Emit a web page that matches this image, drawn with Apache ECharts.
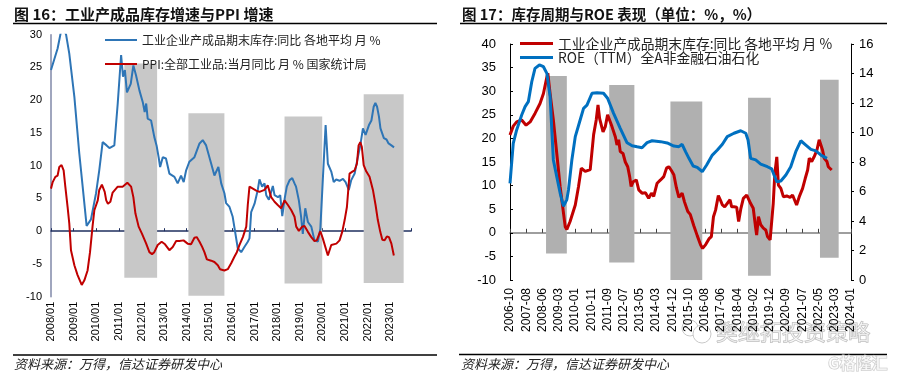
<!DOCTYPE html>
<html>
<head>
<meta charset="utf-8">
<script src="https://cdn.jsdelivr.net/npm/echarts@6/dist/echarts.min.js"></script>
<style>
  html, body { margin: 0; padding: 0; background: #fff; }
  #chart { width: 901px; height: 377px; }
</style>
</head>
<body>
<div id="chart"></div>
<script>
// 左图：月份序号 m 从 2008/01 = 0 开始
const leftYearLabels = ['2008/01', '2009/01', '2010/01', '2011/01', '2012/01', '2013/01', '2014/01', '2015/01',
  '2016/01', '2017/01', '2018/01', '2019/01', '2020/01', '2021/01', '2022/01', '2023/01'];
const leftInvName = '工业企业产成品期末库存:同比 各地平均 月 %';
const leftPpiName = 'PPI:全部工业品:当月同比 月 % 国家统计局';

const leftInv = [[0, 24.6], [3.5, 27.9], [4.4, 29.2], [6, 31.5], [7, 31.8], [8, 30], [9.7, 27.1], [12.4, 20.5],
  [15, 11.9], [16.8, 6.8], [18.9, 0.8], [21.2, 1.8], [23.9, 5.8], [25.6, 9.3], [27.4, 13.6], [29.5, 13.1],
  [31, 12.7], [33.6, 13.1], [35.4, 19.5], [37.2, 26.9], [38.2, 23.6], [39.2, 24.6], [40.3, 21.2], [42.3, 22.5],
  [43.7, 25.3], [45.1, 23.8], [46.9, 21.5], [48.7, 19.7], [49.7, 18.2], [50.5, 19.5], [51.3, 17.2], [53.1, 16.9],
  [54.8, 14.4], [56, 13.1], [57.1, 11.3], [57.9, 9.8], [59.3, 11.3], [61, 11.1], [62.8, 8.8], [65.5, 8.3],
  [67.2, 7.3], [69, 8.5], [70.4, 7.5], [71.7, 9.3], [73.4, 10.6], [76.1, 11.3], [78.8, 13.4], [80.5, 13.9],
  [82.3, 13.1], [83.2, 12.9], [85, 10.3], [86.7, 8.5], [87.6, 8.4], [88.8, 9.8], [90.3, 7.3], [92, 5.8],
  [92.9, 4.3], [94.7, 3.7], [96.4, 2.2], [99.1, -2.6], [100.9, -3.2], [102.6, -2.4], [104.4, -1.6], [105.3, -1.1],
  [106.2, 2.9], [108, 4.2], [109.7, 6.3], [110.6, 7.9], [112, 6.8], [113.3, 7.3], [114.2, 5.5], [115.6, 4.8],
  [116.8, 6.0], [117.7, 6.9], [118.6, 5.5], [120.4, 5.2], [121.6, 5.5], [122.7, 2.3], [124, 5.0], [125.1, 6.8],
  [126.6, 7.8], [128, 8.1], [129.2, 7.3], [130, 6.8], [131.5, 4.7], [132.7, 2.2], [133.6, -0.4], [134.9, 3.5],
  [136.3, 1.4], [138.1, 0.7], [139, 0.4], [139.8, -1.4], [141.6, -1.6], [142.9, 0.4], [144.2, 7.8], [145.7, 16.2],
  [146.9, 10.3], [148.7, 9.1], [150, 7.5], [151.3, 7.9], [153.1, 7.7], [154.9, 8.0], [156.3, 7.5], [158, 6.3],
  [159.3, 7.8], [161.1, 8.8], [162.8, 11.3], [164.1, 13.1], [165.5, 15.7], [166.9, 14.7], [168.7, 16.2], [170, 16.9],
  [171.2, 19.0], [172.1, 19.6], [173, 19.0], [174, 17.5], [174.8, 15.7], [175.8, 15.4], [176.6, 14.2], [178, 14.0],
  [179.1, 13.4], [180.6, 13.1], [182, 12.8]];

const leftPpi = [[0, 6.5], [0.9, 7.5], [2.3, 8.3], [3.5, 8.5], [4.4, 9.8], [5.6, 10.1], [6.7, 9.3], [7.6, 6.8],
  [8.8, 3.7], [9.7, 1.2], [10.6, -2.9], [12.4, -5.2], [14.1, -6.7], [16.3, -8.2], [17.7, -7.5], [19.4, -6.0],
  [20.7, -3.2], [22.1, 0.9], [23, 3.2], [24.8, 4.7], [25.6, 6.3], [27, 7.1], [28.5, 6.0], [29.3, 4.7],
  [30.2, 4.2], [31.5, 4.5], [32.7, 5.9], [33.6, 5.8], [35.4, 6.8], [38, 6.8], [40.5, 7.4], [41.5, 7.5],
  [42.5, 6.8], [43.7, 5.2], [44.8, 2.7], [46.5, 0.7], [48.3, -0.4], [50.5, -1.9], [52.2, -3.2], [53.6, -3.5],
  [54.8, -3.2], [56.6, -2.1], [58.7, -1.6], [60.5, -2.0], [62.8, -2.9], [64.6, -2.4], [66.4, -1.5], [68.1, -1.5],
  [70.3, -1.4], [72.5, -1.9], [74.3, -2.0], [76.1, -1.0], [77.3, -0.9], [78.8, -1.6], [80.2, -2.4], [81.4, -3.2],
  [82.7, -4.3], [85, -4.5], [86.7, -4.7], [88.5, -5.2], [89.7, -5.8], [92, -6.0], [93.8, -5.8], [95.6, -4.9],
  [97.3, -3.9], [98.6, -3.2], [100, -2.1], [101.8, -0.9], [103.6, 0.7], [104.4, 4.0], [105.3, 6.8], [106, 6.9],
  [108.9, 6.2], [110.6, 6.0], [113.3, 6.3], [115, 7.0], [116.8, 5.2], [118.6, 4.5], [120.3, 4.0], [122.1, 3.5],
  [123.9, 4.7], [125.7, 4.0], [127.5, 3.2], [129.2, 2.2], [130.1, 0.7], [131.5, 0.05], [133.3, 0.7], [134.5, 0.8],
  [136.3, -0.1], [138.1, -0.9], [139.8, -1.5], [141, -1.4], [142.9, 0], [144.2, -1.1], [146.9, -3.7], [148.7, -2.1],
  [151.4, -1.9], [153.1, -1.4], [154.5, -0.1], [155.8, 1.7], [157, 3.7], [158.4, 8.8], [159.9, 9.1], [161.1, 9.3],
  [162.3, 10.3], [163.2, 13.1], [164.1, 13.6], [164.9, 12.9], [165.9, 10.1], [167.3, 9.1], [169, 8.3], [170.8, 6.3],
  [172.2, 4.0], [173.4, 1.7], [174.7, -0.1], [175.8, -1.3], [177, -1.4], [178.2, -0.8], [179.3, -0.9], [180.6, -1.9],
  [181.9, -3.7]];

// 阴影区间：[起, 止, 下沿, 上沿]
const leftShade = [[38.9, 56.3, -7.1, 25.6], [72.9, 92, -9.85, 18], [123.9, 143.9, -8, 17.5], [165.9, 187.1, -7.9, 20.9]];

// 右图：横轴序号 0..210，每 10 个一个刻度标签
const rightXLabels = ['2006-10', '2007-08', '2008-06', '2009-03', '2010-01', '2010-11', '2011-09', '2012-07',
  '2013-05', '2014-03', '2014-12', '2015-10', '2016-08', '2017-06', '2018-04', '2019-02', '2019-12', '2020-09',
  '2021-07', '2022-05', '2023-03', '2024-01'];
const rightInvName = '工业企业产成品期末库存:同比 各地平均 月 % ';
const rightRoeName = 'ROE（TTM）全A非金融石油石化';

const rightInv = [[0, 20.7], [2, 22.6], [4.1, 23.5], [7.2, 23.9], [9.9, 22.8], [12.4, 23.5], [15.4, 25.3], [18.5, 27.4],
  [20.6, 29.5], [22.7, 33.0], [23.3, 33.8], [24.7, 29.5], [26.7, 23.9], [28.8, 16.8], [30.9, 9.7], [34, 1.3],
  [35, 0.7], [37, 2.4], [38.1, 2.7], [40.2, 5.9], [42.2, 9.8], [43.9, 13.7], [46.3, 13.0], [49.4, 13.4],
  [51.5, 20.8], [53.1, 23.9], [54.2, 27.1], [55.2, 24.2], [56.2, 24.6], [57.3, 21.4], [58.7, 22.5], [60.1, 25.0],
  [61.3, 24.6], [62.8, 22.5], [64.9, 20.3], [65.9, 18.6], [66.9, 19.7], [67.9, 17.2], [69.6, 16.8], [71, 15.0],
  [72.5, 14.0], [73.7, 11.9], [74.6, 9.8], [75.8, 10.8], [77.8, 11.2], [79.3, 9.1], [81.3, 8.4], [83.4, 8.5],
  [85.4, 7.3], [87.1, 8.4], [88.5, 7.7], [90.6, 10.5], [92.7, 11.2], [94.7, 11.9], [96.4, 13.7], [97.8, 14.0],
  [99.4, 13.2], [100.9, 12.3], [102.5, 9.5], [104, 7.5], [106, 8.4], [107.5, 6.5], [109.5, 4.5], [111, 3.9],
  [113.2, 1.5], [115.3, -0.6], [117.4, -2.6], [118.6, -3.3], [120.5, -2.5], [122.5, -1.3], [124, -0.8], [125.3, 3.4],
  [126.6, 4.8], [128.3, 7.9], [129.5, 7.0], [130.8, 5.9], [132.2, 5.5], [133.4, 5.2], [135.5, 7.0], [136.5, 5.5],
  [137.9, 5.5], [139.6, 5.4], [140.8, 2.4], [142.1, 5.0], [143.7, 7.3], [145.8, 8.0], [148.2, 6.2], [149.8, 5.2],
  [151.3, 1.0], [151.9, -0.5], [153, 3.4], [154.4, 1.7], [156, 1.0], [157.5, 0.6], [158.6, -0.8], [160.2, -1.5],
  [161.2, -1.1], [162.1, 6.2], [163.1, 12.6], [164.3, 16.1], [165.3, 10.1], [166.8, 9.4], [168.4, 7.6], [170.4, 7.8],
  [172.5, 7.5], [174, 8.0], [176.5, 5.9], [178.1, 7.6], [180.2, 9.4], [181.8, 11.5], [183.3, 13.3], [184.3, 15.8],
  [185.8, 15.1], [187.3, 16.1], [189, 17.5], [190.4, 19.7], [191.4, 19.3], [192.5, 17.5], [193.5, 15.8], [195.2, 15.1],
  [196, 14.0], [197.2, 14.2], [198.1, 13.3]];

const rightRoe = [[0, 6.55], [2, 9.27], [4.1, 10.17], [7.2, 11.19], [9.3, 11.75], [11.3, 12.09], [13.4, 13.44], [15.4, 14.35],
  [18.1, 14.58], [20.6, 14.46], [22.7, 14.01], [24.7, 12.43], [26.7, 8.14], [28.8, 7.0], [30.9, 5.88], [32.9, 5.0],
  [35, 5.45], [36, 6.1], [38.1, 8.14], [40.2, 9.72], [43.2, 10.85], [45.3, 11.64], [47.4, 11.86], [50.5, 12.66],
  [53.6, 12.7], [57.6, 12.66], [60.1, 12.32], [63.8, 11.3], [67.9, 10.28], [72.1, 9.3], [75.2, 9.1], [78.3, 9.03],
  [81.3, 8.97], [84.4, 9.31], [87.5, 9.44], [92.7, 9.38], [96.8, 9.29], [100.9, 9.08], [104, 9.04], [106, 9.2],
  [108.1, 8.7], [110.2, 8.25], [112.8, 7.73], [115.3, 7.64], [118.4, 7.34], [121.1, 7.8], [124.6, 8.47], [127.7, 8.81],
  [130.8, 9.2], [133.8, 9.72], [137.9, 9.95], [142.1, 10.12], [143.1, 10.12], [145.2, 9.95], [146.6, 9.49], [148.2, 8.25],
  [151.3, 8.14], [154.4, 7.86], [158.5, 7.68], [161.2, 7.53], [162.6, 7.12], [164.3, 6.66], [166.8, 6.71], [169.9, 7.12],
  [172.9, 7.68], [176, 8.7], [179.1, 9.44], [182.2, 9.15], [185.3, 8.86], [188.4, 8.75], [191.5, 8.47], [195.2, 8.25]];

const rightShade = [[22.2, 35, -4.4, 33.2], [61.1, 76.6, -6.3, 31.3], [98.8, 118.4, -10, 27.8],
  [146.6, 160.6, -9.1, 28.6], [190.9, 202.4, -5.3, 32.4]];

const numFont = '"Liberation Sans", Arial, sans-serif';
const cjkFont = '"Noto Sans CJK SC", sans-serif';

function tickLabel(list, i) {
  return Number.isInteger(i) && list[i] !== undefined ? list[i] : '';
}

function shadeArea(list) {
  return list.map(s => [{ xAxis: s[0], yAxis: s[2] }, { xAxis: s[1], yAxis: s[3] }]);
}

const chart = echarts.init(document.getElementById('chart'));

const option = {
  animation: false,
  grid: [
    { left: 51, top: 34.7, width: 360, height: 262 },
    { left: 510, top: 44, width: 341, height: 236 }
  ],
  legend: [
    {
      data: [leftInvName, leftPpiName],
      orient: 'vertical', left: 105, top: 33, padding: 0,
      icon: 'rect', itemWidth: 32, itemHeight: 2, itemGap: 10,
      textStyle: { fontFamily: cjkFont, fontSize: 12, color: '#222', lineHeight: 14 }
    },
    {
      data: [rightInvName, rightRoeName],
      orient: 'vertical', left: 520, top: 36.5, padding: 0,
      icon: 'rect', itemWidth: 33, itemHeight: 3, itemGap: 0.4,
      textStyle: { fontFamily: cjkFont, fontSize: 13.8, color: '#222', lineHeight: 13 }
    }
  ],
  xAxis: [
    {
      gridIndex: 0, type: 'value', min: 0, max: 191, interval: 12, position: 'bottom',
      axisLine: { show: false, onZero: false }, axisTick: { show: false }, splitLine: { show: false },
      axisLabel: { rotate: 90, margin: 5, fontSize: 11, color: '#000', fontFamily: numFont,
        formatter: v => tickLabel(leftYearLabels, v / 12) }
    },
    {
      gridIndex: 0, type: 'value', min: 0, max: 191, interval: 12, position: 'bottom',
      axisLine: { onZero: true, lineStyle: { color: '#1f2f5f', width: 1.5 } },
      axisTick: { inside: true, length: 3, lineStyle: { color: '#1f2f5f' } },
      axisLabel: { show: false }, splitLine: { show: false }
    },
    {
      gridIndex: 1, type: 'value', min: 0, max: 210, interval: 10, position: 'bottom',
      axisLine: { show: false, onZero: false }, axisTick: { show: false }, splitLine: { show: false },
      axisLabel: { rotate: 90, margin: 8, fontSize: 12, color: '#000', fontFamily: numFont,
        formatter: v => tickLabel(rightXLabels, v / 10) }
    },
    {
      gridIndex: 1, type: 'value', min: 0, max: 210, interval: 10, position: 'bottom',
      axisLine: { onZero: true, onZeroAxisIndex: 1, lineStyle: { color: '#7f7f7f', width: 1.5 } },
      axisTick: { inside: true, length: 4, lineStyle: { color: '#404040' } },
      axisLabel: { show: false }, splitLine: { show: false }
    }
  ],
  yAxis: [
    {
      gridIndex: 0, type: 'value', min: -10, max: 30, interval: 5,
      axisLine: { show: true, onZero: false, lineStyle: { color: '#8088a8', width: 1.5 } },
      axisTick: { show: false }, splitLine: { show: false },
      axisLabel: { fontSize: 11, color: '#000', margin: 9, fontFamily: numFont }
    },
    {
      gridIndex: 1, type: 'value', min: -10, max: 40, interval: 5, position: 'left',
      axisLine: { show: true, onZero: false, lineStyle: { color: '#000' } },
      axisTick: { show: true, inside: true, length: 3, lineStyle: { color: '#000' } },
      splitLine: { show: false },
      axisLabel: { fontSize: 13, color: '#000', margin: 14, fontFamily: numFont }
    },
    {
      gridIndex: 1, type: 'value', min: 0, max: 16, interval: 2, position: 'right',
      axisLine: { show: true, onZero: false, lineStyle: { color: '#000' } },
      axisTick: { show: true, length: 3, lineStyle: { color: '#000' } },
      splitLine: { show: false },
      axisLabel: { fontSize: 13, color: '#000', margin: 8, fontFamily: numFont }
    }
  ],
  series: [
    {
      type: 'line', xAxisIndex: 0, yAxisIndex: 0, data: [], silent: true, z: 1,
      markArea: { silent: true, itemStyle: { color: '#c8c8c8' }, data: shadeArea(leftShade) }
    },
    {
      name: leftInvName, type: 'line', xAxisIndex: 0, yAxisIndex: 0, data: leftInv, z: 3,
      symbol: 'none', lineStyle: { width: 2, color: '#2e75b6' }, itemStyle: { color: '#2e75b6' }
    },
    {
      name: leftPpiName, type: 'line', xAxisIndex: 0, yAxisIndex: 0, data: leftPpi, z: 4,
      symbol: 'none', lineStyle: { width: 2, color: '#c00000' }, itemStyle: { color: '#c00000' }
    },
    {
      type: 'line', xAxisIndex: 2, yAxisIndex: 1, data: [], silent: true, z: 1,
      markArea: { silent: true, itemStyle: { color: '#b0b0b0' }, data: shadeArea(rightShade) }
    },
    {
      name: rightInvName, type: 'line', xAxisIndex: 2, yAxisIndex: 1, data: rightInv, z: 3,
      symbol: 'none', lineStyle: { width: 3, color: '#c00000' }, itemStyle: { color: '#c00000' }
    },
    {
      name: rightRoeName, type: 'line', xAxisIndex: 2, yAxisIndex: 2, data: rightRoe, z: 4,
      symbol: 'none', lineStyle: { width: 3, color: '#0070c0' }, itemStyle: { color: '#0070c0' }
    }
  ],
  graphic: [
    { type: 'text', x: 14, y: 14, style: { text: '图 16：工业产成品库存增速与PPI 增速',
      font: 'bold 15px ' + cjkFont, fill: '#111', verticalAlign: 'middle' } },
    { type: 'text', x: 462, y: 14, style: { text: '图 17：库存周期与ROE 表现（单位：%，%）',
      font: 'bold 14.5px ' + cjkFont, fill: '#111', verticalAlign: 'middle' } },
    { type: 'line', shape: { x1: 13, y1: 23.5, x2: 437, y2: 23.5 }, style: { stroke: '#000', lineWidth: 1.3 } },
    { type: 'line', shape: { x1: 460, y1: 23.5, x2: 887, y2: 23.5 }, style: { stroke: '#000', lineWidth: 1.3 } },
    { type: 'line', shape: { x1: 13, y1: 355, x2: 437, y2: 355 }, style: { stroke: '#000', lineWidth: 1.3 } },
    { type: 'line', shape: { x1: 459, y1: 354.5, x2: 887, y2: 354.5 }, style: { stroke: '#000', lineWidth: 1.3 } },
    { type: 'text', x: 14, y: 364, style: { text: '资料来源：万得，信达证券研发中心',
      font: 'italic 13px ' + cjkFont, fill: '#222', verticalAlign: 'middle' } },
    { type: 'text', x: 461, y: 364, style: { text: '资料来源：万得，信达证券研发中心',
      font: 'italic 13px ' + cjkFont, fill: '#222', verticalAlign: 'middle' } },
    // 水印
    { type: 'circle', shape: { cx: 690, cy: 328, r: 8 }, style: { fill: 'none', stroke: '#c8c8c8', lineWidth: 1 } },
    { type: 'circle', shape: { cx: 702, cy: 334, r: 9 }, style: { fill: '#fff', stroke: '#c8c8c8', lineWidth: 1 } },
    { type: 'text', x: 716, y: 332, style: { text: '樊继拓投资策略',
      font: '22px ' + cjkFont, fill: 'rgba(255,255,255,0.5)', stroke: '#b8b8b8', lineWidth: 1, verticalAlign: 'middle' } },
    { type: 'text', x: 828, y: 363, style: { text: 'G格隆汇',
      font: 'bold 16px ' + cjkFont, fill: 'rgba(255,255,255,0.6)', stroke: '#c8c8c8', lineWidth: 1, verticalAlign: 'middle' } }
  ]
};

chart.setOption(option);
</script>
</body>
</html>
